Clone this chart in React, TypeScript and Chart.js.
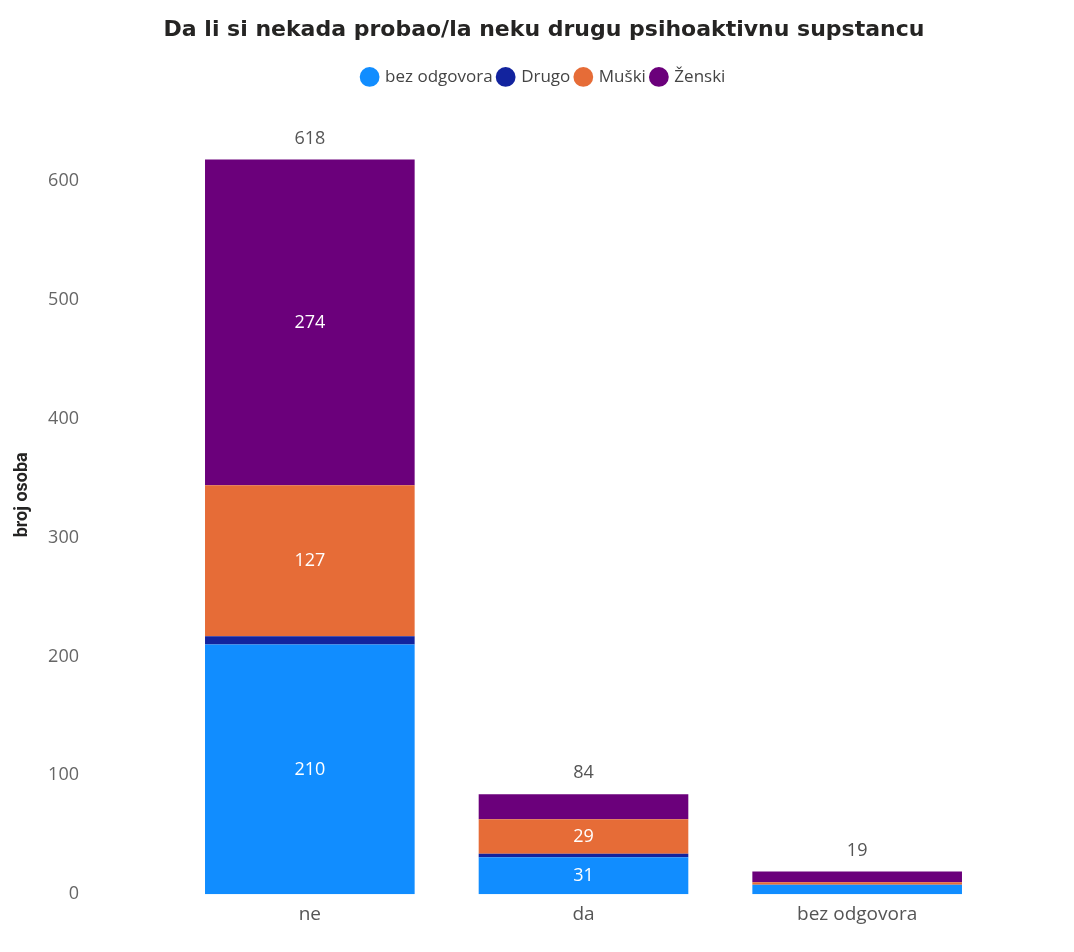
import React, { useEffect, useRef } from "react";
import { Chart, registerables } from "chart.js";

Chart.register(...registerables);

const categories = ["ne", "da", "bez odgovora"];
const seriesNames = ["bez odgovora", "Drugo", "Muški", "Ženski"];
const bezOdgovora = [210, 31, 8];
const drugo = [7, 3, 0];
const muski = [127, 29, 2];
const zenski = [274, 21, 9];
const totals = [618, 84, 19];
const yTicks = [0, 100, 200, 300, 400, 500, 600];
const yMax = 672;
const colors = ["#118DFF", "#12239E", "#E66C37", "#6B007B"];

const labelPlugin = {
  id: "labels",
  afterDatasetsDraw(chart: any) {
    const ctx = chart.ctx;
    ctx.save();
    ctx.textAlign = "center";
    ctx.textBaseline = "middle";
    chart.data.datasets.forEach((ds: any, di: number) => {
      const meta = chart.getDatasetMeta(di);
      meta.data.forEach((bar: any, i: number) => {
        const v = ds.data[i];
        const h = Math.abs(bar.base - bar.y);
        if (h >= 30) {
          ctx.fillStyle = "#FFFFFF";
          ctx.font = "18px 'Open Sans'";
          ctx.fillText(String(v), bar.x, (bar.y + bar.base) / 2);
        }
      });
    });
    const lastMeta = chart.getDatasetMeta(chart.data.datasets.length - 1);
    const yScale = chart.scales.y;
    lastMeta.data.forEach((bar: any, i: number) => {
      ctx.fillStyle = "#555555";
      ctx.font = "18px 'Open Sans'";
      ctx.fillText(String(totals[i]), bar.x, yScale.getPixelForValue(totals[i]) - 21);
    });
    ctx.restore();
  },
};

export default function App() {
  const ref = useRef<HTMLCanvasElement>(null);
  useEffect(() => {
    const seriesData = [bezOdgovora, drugo, muski, zenski];
    const chart = new Chart(ref.current!, {
      type: "bar",
      data: {
        labels: categories,
        datasets: seriesNames.map((n, k) => ({
          label: n,
          data: seriesData[k],
          backgroundColor: colors[k],
          borderWidth: 0,
          categoryPercentage: 1,
          barPercentage: 0.766,
          yAxisID: "y",
        })),
      },
      plugins: [labelPlugin],
      options: {
        animation: false,
        responsive: false,
        maintainAspectRatio: false,
        layout: { padding: { top: 17, right: 0, bottom: 25, left: 14 } },
        plugins: {
          title: {
            display: true,
            text: "Da li si nekada probao/la neku drugu psihoaktivnu supstancu",
            color: "#252423",
            font: { family: "DejaVu Sans", size: 22, weight: "bold" },
            padding: { top: 0, bottom: 19 },
          },
          legend: {
            display: true,
            labels: {
              usePointStyle: true,
              pointStyle: "circle",
              boxWidth: 14,
              boxHeight: 14,
              padding: 6,
              color: "#444444",
              font: { family: "Open Sans", size: 17 },
            },
          },
          tooltip: { enabled: false },
        },
        scales: {
          x: {
            stacked: true,
            grid: { display: false },
            border: { display: false },
            ticks: { color: "#555555", font: { family: "Open Sans", size: 19 }, padding: 1 },
          },
          y: {
            stacked: true,
            position: "left",
            min: 0,
            max: yMax,
            grid: { display: false },
            border: { display: false },
            afterBuildTicks: (s: any) => {
              s.ticks = yTicks.map((v) => ({ value: v }));
            },
            afterFit: (s: any) => {
              s.width = 159;
              s.paddingTop = 8;
              s.paddingBottom = 8;
            },
            ticks: {
              color: "#666666",
              font: { family: "Open Sans", size: 18 },
              padding: 86,
            },
            title: {
              display: true,
              text: "broj osoba",
              color: "#252423",
              font: { family: "Roboto", size: 18, weight: "bold" },
              padding: { top: -2, bottom: 0 },
            },
          },
          yRight: {
            type: "linear",
            position: "right",
            display: true,
            grid: { display: false },
            border: { display: false },
            ticks: { display: false },
            afterFit: (s: any) => {
              s.width = 80;
              s.paddingTop = 0;
              s.paddingBottom = 0;
            },
          },
        },
      },
    });
    return () => chart.destroy();
  }, []);
  return (
    <div style={{ position: "fixed", left: 0, top: 0, width: 1074, height: 952, background: "#fff" }}>
      <canvas ref={ref} width={1074} height={952} style={{ width: 1074, height: 952 }} />
    </div>
  );
}
